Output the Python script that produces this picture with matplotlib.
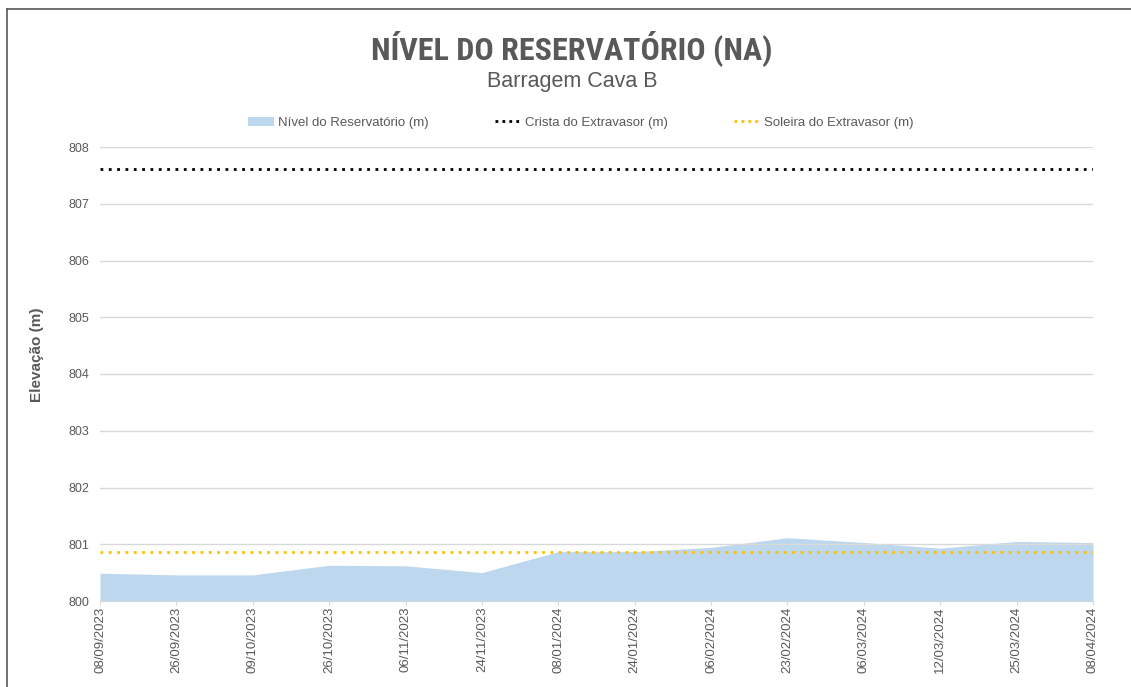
import matplotlib
matplotlib.use("Agg")
import matplotlib.pyplot as plt
from matplotlib.lines import Line2D
from matplotlib.patches import Patch

dates = ["08/09/2023", "26/09/2023", "09/10/2023", "26/10/2023", "06/11/2023",
         "24/11/2023", "08/01/2024", "24/01/2024", "06/02/2024", "23/02/2024",
         "06/03/2024", "12/03/2024", "25/03/2024", "08/04/2024"]
nivel = [800.49, 800.46, 800.46, 800.63, 800.62, 800.50, 800.87, 800.87,
         800.945, 801.115, 801.03, 800.93, 801.05, 801.03]
crista = 807.62
soleira = 800.865
yticks = [800, 801, 802, 803, 804, 805, 806, 807, 808]

plt.rcParams['font.family'] = ['Liberation Sans', 'DejaVu Sans']
gray = "#595959"

fig = plt.figure(figsize=(11.31, 6.87), dpi=100)
ax = fig.add_axes([100/1131, 86/687, 993/1131, 454/687])

x = list(range(len(dates)))
ax.fill_between(x, 800, nivel, color="#bdd7ee", lw=0, zorder=1)
ax.plot([0, len(dates)-1], [crista, crista], color="black", ls=(0, (1, 2)), lw=2, zorder=3)
ax.plot([0, len(dates)-1], [soleira, soleira], color="#ffc000", ls=(0, (1, 2)), lw=2, zorder=3)

ax.set_xlim(0, len(dates)-1)
ax.set_ylim(800, 808)
ax.set_yticks(yticks)
ax.set_yticklabels([str(v) for v in yticks], color=gray, fontsize=9)
ax.set_xticks(x)
ax.set_xticklabels(dates, rotation=90, color=gray, fontsize=9.5)
ax.tick_params(axis='y', length=0, pad=8)
ax.tick_params(axis='x', length=3, color="#d9d9d9", pad=1)
ax.set_axisbelow(False)
ax.grid(axis='y', color="#d9d9d9", lw=1)
ax.grid(axis='x', visible=False)
for s in ["top", "right", "left"]:
    ax.spines[s].set_visible(False)
ax.spines["bottom"].set_color("#d9d9d9")
ax.spines["bottom"].set_zorder(0.5)

fig.text(37/1131, 1 - 355/687, "Elevação (m)", rotation=90, ha="center", va="center",
         fontsize=11, fontweight="bold", color=gray)

fig.text(572/1131, 1 - 49/687, "NÍVEL DO RESERVATÓRIO (NA)", ha="center", va="center",
         fontsize=23, fontweight="bold", color=gray,
         family=['Roboto Condensed', 'Liberation Sans Narrow', 'Roboto'])
fig.text(572/1131, 1 - 81/687, "Barragem Cava B", ha="center", va="center",
         fontsize=15.5, color=gray)

handles = [Patch(facecolor="#bdd7ee", edgecolor="none"),
           Line2D([0], [0], color="black", ls=(0, (1, 1.5)), lw=2),
           Line2D([0], [0], color="#ffc000", ls=(0, (1, 1.5)), lw=2)]
labels = ["Nível do Reservatório (m)", "Crista do Extravasor (m)", "Soleira do Extravasor (m)"]
leg = fig.legend(handles, labels, loc="center", bbox_to_anchor=(581/1131, 1 - 123/687),
                 ncol=3, frameon=False, fontsize=9.5, handlelength=2.0, handleheight=0.7,
                 columnspacing=5, handletextpad=0.3)
for t in leg.get_texts():
    t.set_color(gray)

fig.add_artist(Line2D([7/1131, 7/1131], [0, 1 - 9/687], color="#595959", lw=1.2))
fig.add_artist(Line2D([7/1131, 1], [1 - 9/687, 1 - 9/687], color="#595959", lw=1.2))

fig.savefig("out.png", dpi=100, facecolor="white")
